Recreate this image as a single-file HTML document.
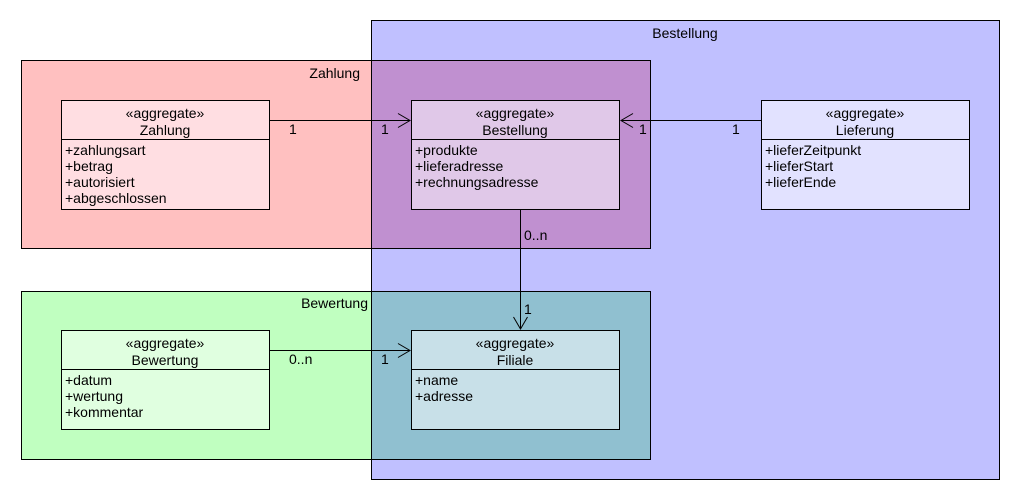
<!DOCTYPE html>
<html><head><meta charset="utf-8"><style>
html,body{margin:0;padding:0;background:#fff;}
svg{display:block;font-family:"Liberation Sans",Arial,sans-serif;font-size:14px;}
</style></head><body>
<svg width="1020" height="500" viewBox="0 0 1020 500" xmlns="http://www.w3.org/2000/svg">
<g stroke="#000" stroke-width="1">
<rect x="371.5" y="20.5" width="628" height="459" fill="#c0c0ff"/>
<rect x="21.5" y="60.5" width="629" height="188" fill="#ffc0c0"/>
<rect x="21.5" y="291.5" width="629" height="168" fill="#c0ffc0"/>
</g>
<rect x="372" y="61" width="278" height="187" fill="#c090d0"/>
<rect x="372" y="292" width="278" height="167" fill="#90c0d0"/>
<line x1="371.5" y1="60" x2="371.5" y2="249" stroke="#000"/>
<line x1="371.5" y1="291" x2="371.5" y2="460" stroke="#000"/>
<g fill="#000">
<text x="685" y="38" text-anchor="middle">Bestellung</text>
<text x="360" y="78" text-anchor="end">Zahlung</text>
<text x="368" y="308" text-anchor="end">Bewertung</text>
</g>
<g stroke="#000" stroke-width="1">
<rect x="61.5" y="100.5" width="208" height="109" fill="#ffdee2"/>
<line x1="61" y1="139.5" x2="270" y2="139.5"/>
<rect x="411.5" y="100.5" width="208" height="109" fill="#e0c8e8"/>
<line x1="411" y1="139.5" x2="620" y2="139.5"/>
<rect x="761.5" y="100.5" width="208" height="109" fill="#e2e2ff"/>
<line x1="761" y1="139.5" x2="970" y2="139.5"/>
<rect x="61.5" y="330.5" width="208" height="99" fill="#e0ffe0"/>
<line x1="61" y1="369.5" x2="270" y2="369.5"/>
<rect x="411.5" y="330.5" width="208" height="99" fill="#c8e0e8"/>
<line x1="411" y1="369.5" x2="620" y2="369.5"/>
</g>
<g fill="#000" text-anchor="middle">
<text x="165" y="118">«aggregate»</text><text x="165" y="135">Zahlung</text>
<text x="515" y="118">«aggregate»</text><text x="515" y="135">Bestellung</text>
<text x="865" y="118">«aggregate»</text><text x="865" y="135">Lieferung</text>
<text x="165" y="348">«aggregate»</text><text x="165" y="365">Bewertung</text>
<text x="515" y="348">«aggregate»</text><text x="515" y="365">Filiale</text>
</g>
<g fill="#000">
<text x="65" y="155">+zahlungsart</text><text x="65" y="171">+betrag</text><text x="65" y="187">+autorisiert</text><text x="65" y="203">+abgeschlossen</text>
<text x="415" y="155">+produkte</text><text x="415" y="171">+lieferadresse</text><text x="415" y="187">+rechnungsadresse</text>
<text x="765" y="155">+lieferZeitpunkt</text><text x="765" y="171">+lieferStart</text><text x="765" y="187">+lieferEnde</text>
<text x="65" y="385">+datum</text><text x="65" y="401">+wertung</text><text x="65" y="417">+kommentar</text>
<text x="415" y="385">+name</text><text x="415" y="401">+adresse</text>
</g>
<g stroke="#000" fill="none" stroke-width="1">
<line x1="270" y1="120.5" x2="410" y2="120.5"/>
<polyline points="398,113.5 410,120.5 398,127.5"/>
<line x1="761" y1="120.5" x2="621" y2="120.5"/>
<polyline points="633,113.5 621,120.5 633,127.5"/>
<line x1="520.5" y1="210" x2="520.5" y2="329"/>
<polyline points="513.5,317 520.5,329 527.5,317"/>
<line x1="270" y1="350.5" x2="410" y2="350.5"/>
<polyline points="398,343.5 410,350.5 398,357.5"/>
</g>
<g fill="#000">
<text x="289" y="134">1</text>
<text x="381" y="134">1</text>
<text x="639" y="134">1</text>
<text x="732" y="134">1</text>
<text x="524" y="240">0..n</text>
<text x="524" y="314">1</text>
<text x="289" y="364">0..n</text>
<text x="381" y="364">1</text>
</g>
</svg>
</body></html>
